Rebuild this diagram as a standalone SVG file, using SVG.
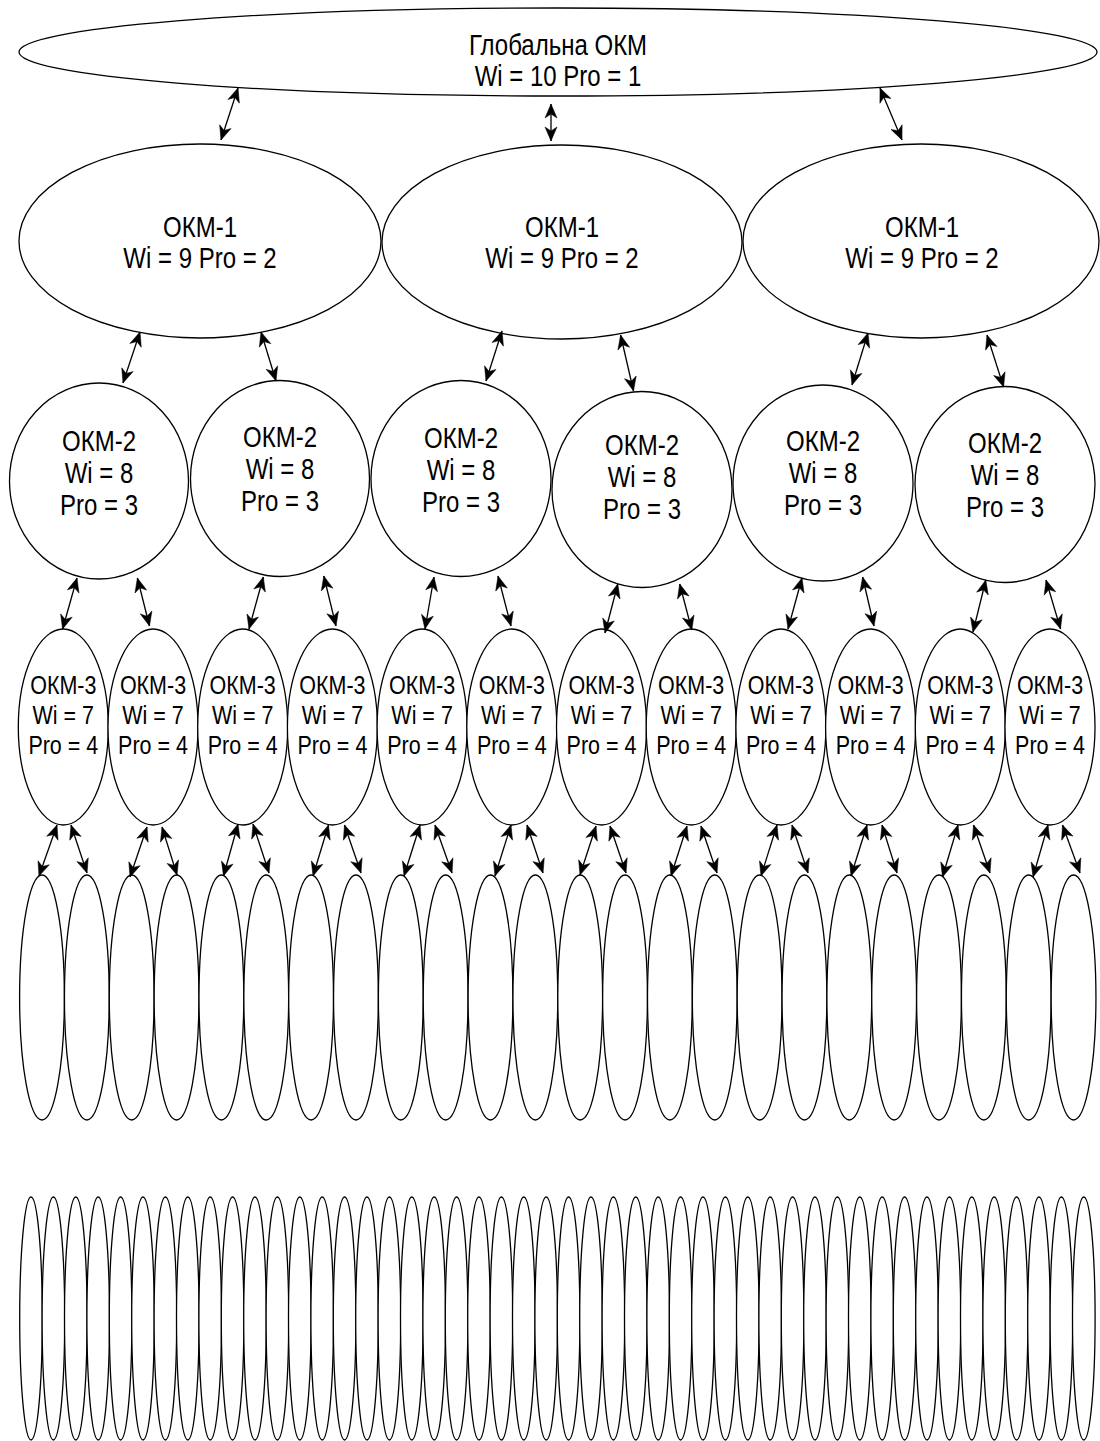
<svg xmlns="http://www.w3.org/2000/svg" width="1100" height="1441" viewBox="0 0 1100 1441">
<style>
.sh{fill:#fff;stroke:#000;stroke-width:1.3}
.cn line{stroke:#000;stroke-width:1.3;fill:none}
.t{font-family:"Liberation Sans",Arial,sans-serif;font-size:24px;text-anchor:middle;fill:#000}
.t3{font-size:21.5px}
</style>
<defs>
<marker id="ah" viewBox="-16 -8 17 16" refX="0" refY="0" markerWidth="17" markerHeight="16" markerUnits="userSpaceOnUse" orient="auto-start-reverse" overflow="visible">
<path d="M0,0 L-14,-6 L-10,0 L-14,6 Z" fill="#000" stroke="#000" stroke-width="0.5" stroke-linejoin="miter"/>
</marker>
</defs>
<g id="nodes">
<g id="global"><ellipse class="sh" cx="558" cy="52" rx="539" ry="44"/>
<text class="t" transform="translate(558,55) scale(1,1.2)"><tspan x="0" y="0">Глобальна ОКМ</tspan><tspan x="0" y="25.8">Wi = 10 Pro = 1</tspan></text></g>

<g id="okm1-a"><ellipse class="sh" cx="200" cy="241" rx="181" ry="97"/>
<text class="t" transform="translate(200,237) scale(1,1.2)"><tspan x="0" y="0">ОКМ-1</tspan><tspan x="0" y="25.8">Wi = 9 Pro = 2</tspan></text></g>
<g id="okm1-b"><ellipse class="sh" cx="562" cy="242" rx="180" ry="97"/>
<text class="t" transform="translate(562,237) scale(1,1.2)"><tspan x="0" y="0">ОКМ-1</tspan><tspan x="0" y="25.8">Wi = 9 Pro = 2</tspan></text></g>
<g id="okm1-c"><ellipse class="sh" cx="921" cy="241" rx="178" ry="97"/>
<text class="t" transform="translate(922,237) scale(1,1.2)"><tspan x="0" y="0">ОКМ-1</tspan><tspan x="0" y="25.8">Wi = 9 Pro = 2</tspan></text></g>

<g id="okm2-1"><ellipse class="sh" cx="99" cy="481" rx="89.5" ry="98"/>
<text class="t" transform="translate(99,483) scale(1,1.2)"><tspan x="0" y="-26.7">ОКМ-2</tspan><tspan x="0" y="0">Wi = 8</tspan><tspan x="0" y="26.7">Pro = 3</tspan></text></g>
<g id="okm2-2"><ellipse class="sh" cx="280" cy="478.5" rx="89.5" ry="98"/>
<text class="t" transform="translate(280,479) scale(1,1.2)"><tspan x="0" y="-26.7">ОКМ-2</tspan><tspan x="0" y="0">Wi = 8</tspan><tspan x="0" y="26.7">Pro = 3</tspan></text></g>
<g id="okm2-3"><ellipse class="sh" cx="461" cy="478.5" rx="90" ry="98"/>
<text class="t" transform="translate(461,480) scale(1,1.2)"><tspan x="0" y="-26.7">ОКМ-2</tspan><tspan x="0" y="0">Wi = 8</tspan><tspan x="0" y="26.7">Pro = 3</tspan></text></g>
<g id="okm2-4"><ellipse class="sh" cx="642" cy="489.5" rx="90" ry="98"/>
<text class="t" transform="translate(642,487) scale(1,1.2)"><tspan x="0" y="-26.7">ОКМ-2</tspan><tspan x="0" y="0">Wi = 8</tspan><tspan x="0" y="26.7">Pro = 3</tspan></text></g>
<g id="okm2-5"><ellipse class="sh" cx="823" cy="483" rx="90" ry="98"/>
<text class="t" transform="translate(823,483) scale(1,1.2)"><tspan x="0" y="-26.7">ОКМ-2</tspan><tspan x="0" y="0">Wi = 8</tspan><tspan x="0" y="26.7">Pro = 3</tspan></text></g>
<g id="okm2-6"><ellipse class="sh" cx="1005" cy="484.5" rx="90" ry="98"/>
<text class="t" transform="translate(1005,485) scale(1,1.2)"><tspan x="0" y="-26.7">ОКМ-2</tspan><tspan x="0" y="0">Wi = 8</tspan><tspan x="0" y="26.7">Pro = 3</tspan></text></g>

<g id="okm3-1"><ellipse class="sh" cx="63.3" cy="727" rx="45" ry="98"/><text class="t t3" transform="translate(63.3,724) scale(1,1.17)"><tspan x="0" y="-26">ОКМ-3</tspan><tspan x="0" y="0">Wi = 7</tspan><tspan x="0" y="26">Pro = 4</tspan></text></g>
<g id="okm3-2"><ellipse class="sh" cx="153" cy="727" rx="45" ry="98"/><text class="t t3" transform="translate(153,724) scale(1,1.17)"><tspan x="0" y="-26">ОКМ-3</tspan><tspan x="0" y="0">Wi = 7</tspan><tspan x="0" y="26">Pro = 4</tspan></text></g>
<g id="okm3-3"><ellipse class="sh" cx="242.7" cy="727" rx="45" ry="98"/><text class="t t3" transform="translate(242.7,724) scale(1,1.17)"><tspan x="0" y="-26">ОКМ-3</tspan><tspan x="0" y="0">Wi = 7</tspan><tspan x="0" y="26">Pro = 4</tspan></text></g>
<g id="okm3-4"><ellipse class="sh" cx="332.4" cy="727" rx="45" ry="98"/><text class="t t3" transform="translate(332.4,724) scale(1,1.17)"><tspan x="0" y="-26">ОКМ-3</tspan><tspan x="0" y="0">Wi = 7</tspan><tspan x="0" y="26">Pro = 4</tspan></text></g>
<g id="okm3-5"><ellipse class="sh" cx="422.1" cy="727" rx="45" ry="98"/><text class="t t3" transform="translate(422.1,724) scale(1,1.17)"><tspan x="0" y="-26">ОКМ-3</tspan><tspan x="0" y="0">Wi = 7</tspan><tspan x="0" y="26">Pro = 4</tspan></text></g>
<g id="okm3-6"><ellipse class="sh" cx="511.8" cy="727" rx="45" ry="98"/><text class="t t3" transform="translate(511.8,724) scale(1,1.17)"><tspan x="0" y="-26">ОКМ-3</tspan><tspan x="0" y="0">Wi = 7</tspan><tspan x="0" y="26">Pro = 4</tspan></text></g>
<g id="okm3-7"><ellipse class="sh" cx="601.5" cy="727" rx="45" ry="98"/><text class="t t3" transform="translate(601.5,724) scale(1,1.17)"><tspan x="0" y="-26">ОКМ-3</tspan><tspan x="0" y="0">Wi = 7</tspan><tspan x="0" y="26">Pro = 4</tspan></text></g>
<g id="okm3-8"><ellipse class="sh" cx="691.2" cy="727" rx="45" ry="98"/><text class="t t3" transform="translate(691.2,724) scale(1,1.17)"><tspan x="0" y="-26">ОКМ-3</tspan><tspan x="0" y="0">Wi = 7</tspan><tspan x="0" y="26">Pro = 4</tspan></text></g>
<g id="okm3-9"><ellipse class="sh" cx="780.9" cy="727" rx="45" ry="98"/><text class="t t3" transform="translate(780.9,724) scale(1,1.17)"><tspan x="0" y="-26">ОКМ-3</tspan><tspan x="0" y="0">Wi = 7</tspan><tspan x="0" y="26">Pro = 4</tspan></text></g>
<g id="okm3-10"><ellipse class="sh" cx="870.6" cy="727" rx="45" ry="98"/><text class="t t3" transform="translate(870.6,724) scale(1,1.17)"><tspan x="0" y="-26">ОКМ-3</tspan><tspan x="0" y="0">Wi = 7</tspan><tspan x="0" y="26">Pro = 4</tspan></text></g>
<g id="okm3-11"><ellipse class="sh" cx="960.3" cy="727" rx="45" ry="98"/><text class="t t3" transform="translate(960.3,724) scale(1,1.17)"><tspan x="0" y="-26">ОКМ-3</tspan><tspan x="0" y="0">Wi = 7</tspan><tspan x="0" y="26">Pro = 4</tspan></text></g>
<g id="okm3-12"><ellipse class="sh" cx="1050" cy="727" rx="45" ry="98"/><text class="t t3" transform="translate(1050,724) scale(1,1.17)"><tspan x="0" y="-26">ОКМ-3</tspan><tspan x="0" y="0">Wi = 7</tspan><tspan x="0" y="26">Pro = 4</tspan></text></g>

<g id="l4-1"><ellipse class="sh" cx="42" cy="997.5" rx="22.4" ry="122.5"/></g>
<g id="l4-2"><ellipse class="sh" cx="86.85" cy="997.5" rx="22.4" ry="122.5"/></g>
<g id="l4-3"><ellipse class="sh" cx="131.7" cy="997.5" rx="22.4" ry="122.5"/></g>
<g id="l4-4"><ellipse class="sh" cx="176.55" cy="997.5" rx="22.4" ry="122.5"/></g>
<g id="l4-5"><ellipse class="sh" cx="221.4" cy="997.5" rx="22.4" ry="122.5"/></g>
<g id="l4-6"><ellipse class="sh" cx="266.25" cy="997.5" rx="22.4" ry="122.5"/></g>
<g id="l4-7"><ellipse class="sh" cx="311.1" cy="997.5" rx="22.4" ry="122.5"/></g>
<g id="l4-8"><ellipse class="sh" cx="355.95" cy="997.5" rx="22.4" ry="122.5"/></g>
<g id="l4-9"><ellipse class="sh" cx="400.8" cy="997.5" rx="22.4" ry="122.5"/></g>
<g id="l4-10"><ellipse class="sh" cx="445.65" cy="997.5" rx="22.4" ry="122.5"/></g>
<g id="l4-11"><ellipse class="sh" cx="490.5" cy="997.5" rx="22.4" ry="122.5"/></g>
<g id="l4-12"><ellipse class="sh" cx="535.35" cy="997.5" rx="22.4" ry="122.5"/></g>
<g id="l4-13"><ellipse class="sh" cx="580.2" cy="997.5" rx="22.4" ry="122.5"/></g>
<g id="l4-14"><ellipse class="sh" cx="625.05" cy="997.5" rx="22.4" ry="122.5"/></g>
<g id="l4-15"><ellipse class="sh" cx="669.9" cy="997.5" rx="22.4" ry="122.5"/></g>
<g id="l4-16"><ellipse class="sh" cx="714.75" cy="997.5" rx="22.4" ry="122.5"/></g>
<g id="l4-17"><ellipse class="sh" cx="759.6" cy="997.5" rx="22.4" ry="122.5"/></g>
<g id="l4-18"><ellipse class="sh" cx="804.45" cy="997.5" rx="22.4" ry="122.5"/></g>
<g id="l4-19"><ellipse class="sh" cx="849.3" cy="997.5" rx="22.4" ry="122.5"/></g>
<g id="l4-20"><ellipse class="sh" cx="894.15" cy="997.5" rx="22.4" ry="122.5"/></g>
<g id="l4-21"><ellipse class="sh" cx="939" cy="997.5" rx="22.4" ry="122.5"/></g>
<g id="l4-22"><ellipse class="sh" cx="983.85" cy="997.5" rx="22.4" ry="122.5"/></g>
<g id="l4-23"><ellipse class="sh" cx="1028.7" cy="997.5" rx="22.4" ry="122.5"/></g>
<g id="l4-24"><ellipse class="sh" cx="1073.55" cy="997.5" rx="22.4" ry="122.5"/></g>

<g id="l5-1"><ellipse class="sh" cx="31" cy="1318.5" rx="11.3" ry="121.5"/></g>
<g id="l5-2"><ellipse class="sh" cx="53.4" cy="1318.5" rx="11.3" ry="121.5"/></g>
<g id="l5-3"><ellipse class="sh" cx="75.8" cy="1318.5" rx="11.3" ry="121.5"/></g>
<g id="l5-4"><ellipse class="sh" cx="98.2" cy="1318.5" rx="11.3" ry="121.5"/></g>
<g id="l5-5"><ellipse class="sh" cx="120.6" cy="1318.5" rx="11.3" ry="121.5"/></g>
<g id="l5-6"><ellipse class="sh" cx="143" cy="1318.5" rx="11.3" ry="121.5"/></g>
<g id="l5-7"><ellipse class="sh" cx="165.4" cy="1318.5" rx="11.3" ry="121.5"/></g>
<g id="l5-8"><ellipse class="sh" cx="187.8" cy="1318.5" rx="11.3" ry="121.5"/></g>
<g id="l5-9"><ellipse class="sh" cx="210.2" cy="1318.5" rx="11.3" ry="121.5"/></g>
<g id="l5-10"><ellipse class="sh" cx="232.6" cy="1318.5" rx="11.3" ry="121.5"/></g>
<g id="l5-11"><ellipse class="sh" cx="255" cy="1318.5" rx="11.3" ry="121.5"/></g>
<g id="l5-12"><ellipse class="sh" cx="277.4" cy="1318.5" rx="11.3" ry="121.5"/></g>
<g id="l5-13"><ellipse class="sh" cx="299.8" cy="1318.5" rx="11.3" ry="121.5"/></g>
<g id="l5-14"><ellipse class="sh" cx="322.2" cy="1318.5" rx="11.3" ry="121.5"/></g>
<g id="l5-15"><ellipse class="sh" cx="344.6" cy="1318.5" rx="11.3" ry="121.5"/></g>
<g id="l5-16"><ellipse class="sh" cx="367" cy="1318.5" rx="11.3" ry="121.5"/></g>
<g id="l5-17"><ellipse class="sh" cx="389.4" cy="1318.5" rx="11.3" ry="121.5"/></g>
<g id="l5-18"><ellipse class="sh" cx="411.8" cy="1318.5" rx="11.3" ry="121.5"/></g>
<g id="l5-19"><ellipse class="sh" cx="434.2" cy="1318.5" rx="11.3" ry="121.5"/></g>
<g id="l5-20"><ellipse class="sh" cx="456.6" cy="1318.5" rx="11.3" ry="121.5"/></g>
<g id="l5-21"><ellipse class="sh" cx="479" cy="1318.5" rx="11.3" ry="121.5"/></g>
<g id="l5-22"><ellipse class="sh" cx="501.4" cy="1318.5" rx="11.3" ry="121.5"/></g>
<g id="l5-23"><ellipse class="sh" cx="523.8" cy="1318.5" rx="11.3" ry="121.5"/></g>
<g id="l5-24"><ellipse class="sh" cx="546.2" cy="1318.5" rx="11.3" ry="121.5"/></g>
<g id="l5-25"><ellipse class="sh" cx="568.6" cy="1318.5" rx="11.3" ry="121.5"/></g>
<g id="l5-26"><ellipse class="sh" cx="591" cy="1318.5" rx="11.3" ry="121.5"/></g>
<g id="l5-27"><ellipse class="sh" cx="613.4" cy="1318.5" rx="11.3" ry="121.5"/></g>
<g id="l5-28"><ellipse class="sh" cx="635.8" cy="1318.5" rx="11.3" ry="121.5"/></g>
<g id="l5-29"><ellipse class="sh" cx="658.2" cy="1318.5" rx="11.3" ry="121.5"/></g>
<g id="l5-30"><ellipse class="sh" cx="680.6" cy="1318.5" rx="11.3" ry="121.5"/></g>
<g id="l5-31"><ellipse class="sh" cx="703" cy="1318.5" rx="11.3" ry="121.5"/></g>
<g id="l5-32"><ellipse class="sh" cx="725.4" cy="1318.5" rx="11.3" ry="121.5"/></g>
<g id="l5-33"><ellipse class="sh" cx="747.8" cy="1318.5" rx="11.3" ry="121.5"/></g>
<g id="l5-34"><ellipse class="sh" cx="770.2" cy="1318.5" rx="11.3" ry="121.5"/></g>
<g id="l5-35"><ellipse class="sh" cx="792.6" cy="1318.5" rx="11.3" ry="121.5"/></g>
<g id="l5-36"><ellipse class="sh" cx="815" cy="1318.5" rx="11.3" ry="121.5"/></g>
<g id="l5-37"><ellipse class="sh" cx="837.4" cy="1318.5" rx="11.3" ry="121.5"/></g>
<g id="l5-38"><ellipse class="sh" cx="859.8" cy="1318.5" rx="11.3" ry="121.5"/></g>
<g id="l5-39"><ellipse class="sh" cx="882.2" cy="1318.5" rx="11.3" ry="121.5"/></g>
<g id="l5-40"><ellipse class="sh" cx="904.6" cy="1318.5" rx="11.3" ry="121.5"/></g>
<g id="l5-41"><ellipse class="sh" cx="927" cy="1318.5" rx="11.3" ry="121.5"/></g>
<g id="l5-42"><ellipse class="sh" cx="949.4" cy="1318.5" rx="11.3" ry="121.5"/></g>
<g id="l5-43"><ellipse class="sh" cx="971.8" cy="1318.5" rx="11.3" ry="121.5"/></g>
<g id="l5-44"><ellipse class="sh" cx="994.2" cy="1318.5" rx="11.3" ry="121.5"/></g>
<g id="l5-45"><ellipse class="sh" cx="1016.6" cy="1318.5" rx="11.3" ry="121.5"/></g>
<g id="l5-46"><ellipse class="sh" cx="1039" cy="1318.5" rx="11.3" ry="121.5"/></g>
<g id="l5-47"><ellipse class="sh" cx="1061.4" cy="1318.5" rx="11.3" ry="121.5"/></g>
<g id="l5-48"><ellipse class="sh" cx="1083.8" cy="1318.5" rx="11.3" ry="121.5"/></g>
</g>

<g id="connectors" class="cn" marker-start="url(#ah)" marker-end="url(#ah)">
<line marker-start="url(#ah)" marker-end="url(#ah)" x1="238" y1="88" x2="221" y2="140"/>
<line marker-start="url(#ah)" marker-end="url(#ah)" x1="551" y1="104" x2="551" y2="141"/>
<line marker-start="url(#ah)" marker-end="url(#ah)" x1="880" y1="88" x2="902" y2="140"/>

<line marker-start="url(#ah)" marker-end="url(#ah)" x1="140" y1="332" x2="123" y2="383"/>
<line marker-start="url(#ah)" marker-end="url(#ah)" x1="261" y1="332" x2="276" y2="381"/>
<line marker-start="url(#ah)" marker-end="url(#ah)" x1="502" y1="331" x2="486" y2="381"/>
<line marker-start="url(#ah)" marker-end="url(#ah)" x1="620.6" y1="335" x2="633.5" y2="391"/>
<line marker-start="url(#ah)" marker-end="url(#ah)" x1="868" y1="333" x2="852" y2="385"/>
<line marker-start="url(#ah)" marker-end="url(#ah)" x1="987" y1="335" x2="1003.6" y2="387"/>

<line marker-start="url(#ah)" marker-end="url(#ah)" x1="77" y1="578" x2="62.6" y2="629"/>
<line marker-start="url(#ah)" marker-end="url(#ah)" x1="137.4" y1="578" x2="149.5" y2="626"/>
<line marker-start="url(#ah)" marker-end="url(#ah)" x1="263.3" y1="577" x2="249" y2="629"/>
<line marker-start="url(#ah)" marker-end="url(#ah)" x1="323.8" y1="576" x2="336" y2="626"/>
<line marker-start="url(#ah)" marker-end="url(#ah)" x1="434" y1="577" x2="425" y2="629"/>
<line marker-start="url(#ah)" marker-end="url(#ah)" x1="498" y1="576" x2="511" y2="626"/>
<line marker-start="url(#ah)" marker-end="url(#ah)" x1="617.8" y1="584" x2="605" y2="633"/>
<line marker-start="url(#ah)" marker-end="url(#ah)" x1="679.7" y1="584" x2="691.8" y2="630"/>
<line marker-start="url(#ah)" marker-end="url(#ah)" x1="802" y1="578" x2="788" y2="629"/>
<line marker-start="url(#ah)" marker-end="url(#ah)" x1="862.6" y1="577" x2="874" y2="626"/>
<line marker-start="url(#ah)" marker-end="url(#ah)" x1="985.8" y1="580" x2="973" y2="632"/>
<line marker-start="url(#ah)" marker-end="url(#ah)" x1="1046" y1="580" x2="1060.5" y2="629"/>

<line marker-start="url(#ah)" marker-end="url(#ah)" x1="57" y1="825" x2="39" y2="876"/>
<line marker-start="url(#ah)" marker-end="url(#ah)" x1="71" y1="825" x2="87" y2="873"/>
<line marker-start="url(#ah)" marker-end="url(#ah)" x1="147" y1="827" x2="130" y2="877"/>
<line marker-start="url(#ah)" marker-end="url(#ah)" x1="162" y1="827" x2="177" y2="875"/>
<line marker-start="url(#ah)" marker-end="url(#ah)" x1="238" y1="824" x2="223.5" y2="876"/>
<line marker-start="url(#ah)" marker-end="url(#ah)" x1="253" y1="824" x2="269" y2="873"/>
<line marker-start="url(#ah)" marker-end="url(#ah)" x1="328.5" y1="825" x2="313" y2="876"/>
<line marker-start="url(#ah)" marker-end="url(#ah)" x1="344.5" y1="825" x2="361" y2="873"/>
<line marker-start="url(#ah)" marker-end="url(#ah)" x1="420" y1="825" x2="404" y2="876"/>
<line marker-start="url(#ah)" marker-end="url(#ah)" x1="435" y1="825" x2="452" y2="873"/>
<line marker-start="url(#ah)" marker-end="url(#ah)" x1="511" y1="825" x2="495" y2="876"/>
<line marker-start="url(#ah)" marker-end="url(#ah)" x1="527" y1="825" x2="543" y2="873"/>
<line marker-start="url(#ah)" marker-end="url(#ah)" x1="596" y1="826" x2="580" y2="875"/>
<line marker-start="url(#ah)" marker-end="url(#ah)" x1="610" y1="826" x2="626" y2="873"/>
<line marker-start="url(#ah)" marker-end="url(#ah)" x1="687" y1="826" x2="671" y2="876"/>
<line marker-start="url(#ah)" marker-end="url(#ah)" x1="701" y1="826" x2="717" y2="873"/>
<line marker-start="url(#ah)" marker-end="url(#ah)" x1="777" y1="825" x2="761" y2="876"/>
<line marker-start="url(#ah)" marker-end="url(#ah)" x1="792" y1="825" x2="808" y2="873"/>
<line marker-start="url(#ah)" marker-end="url(#ah)" x1="867" y1="825" x2="851" y2="876"/>
<line marker-start="url(#ah)" marker-end="url(#ah)" x1="882" y1="825" x2="897" y2="873"/>
<line marker-start="url(#ah)" marker-end="url(#ah)" x1="958" y1="825" x2="942.5" y2="877"/>
<line marker-start="url(#ah)" marker-end="url(#ah)" x1="973.5" y1="825" x2="990" y2="873"/>
<line marker-start="url(#ah)" marker-end="url(#ah)" x1="1048" y1="825" x2="1033" y2="877"/>
<line marker-start="url(#ah)" marker-end="url(#ah)" x1="1062.5" y1="825" x2="1080" y2="873"/>
</g>
</svg>
